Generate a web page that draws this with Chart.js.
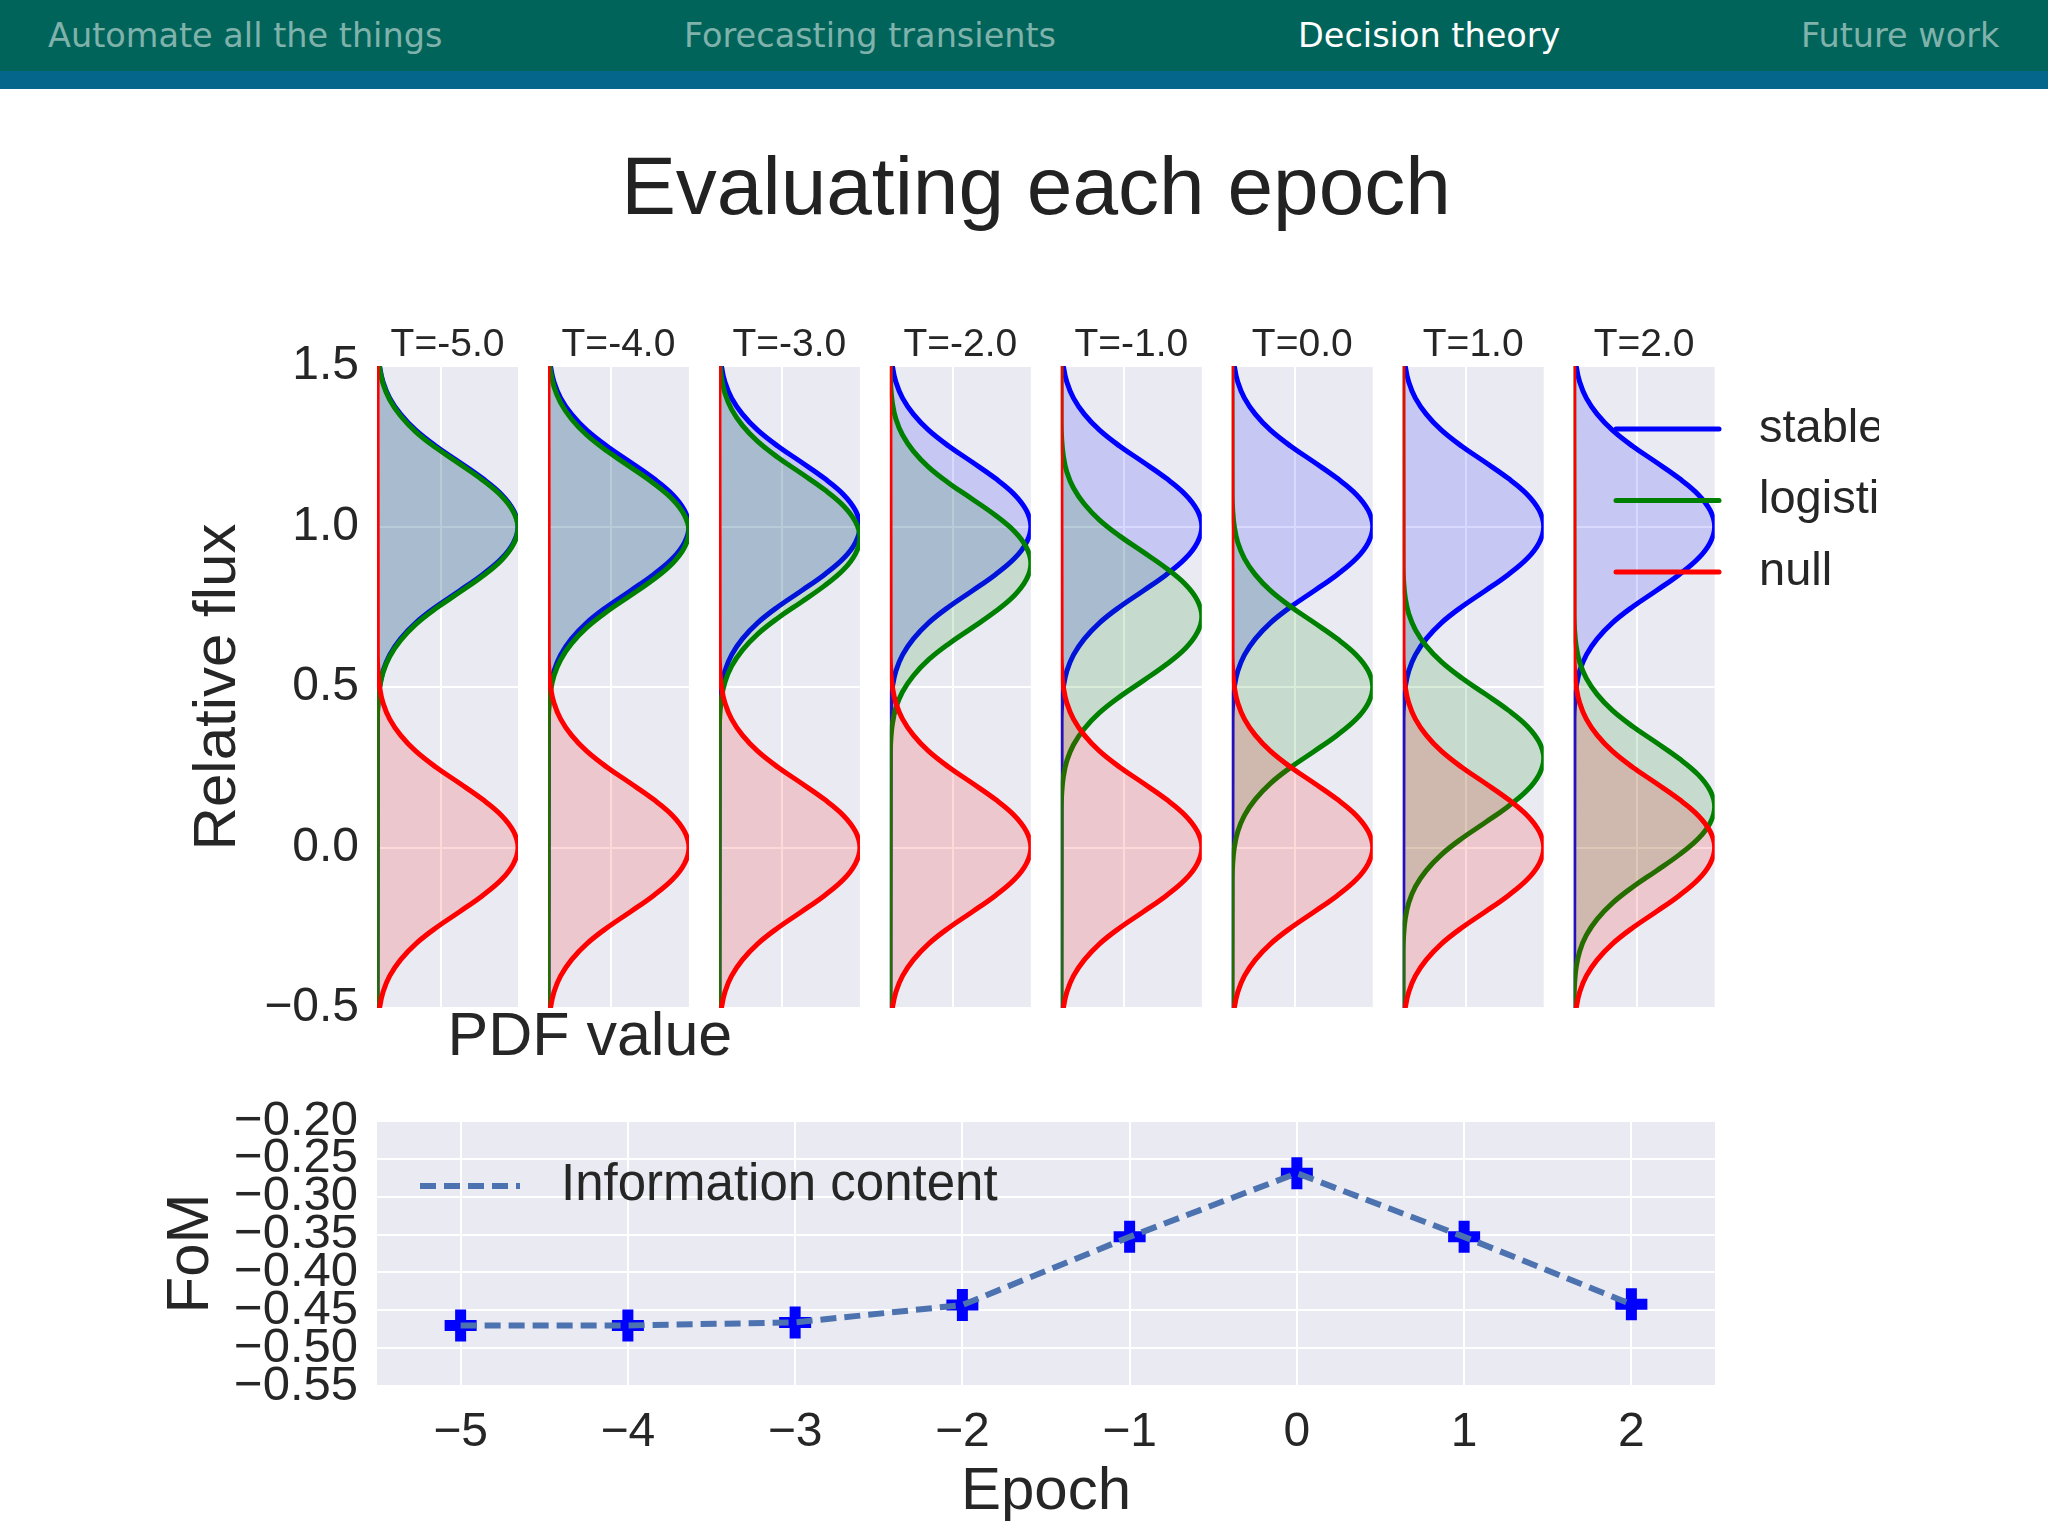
<!DOCTYPE html>
<html lang="en">
<head>
<meta charset="utf-8">
<title>Evaluating each epoch</title>
<script src="https://cdn.jsdelivr.net/npm/chart.js"></script>
<style>
    html, body { margin: 0; padding: 0; background: #fff; }
    #slide { position: relative; width: 2048px; height: 1536px; overflow: hidden; background: #fff; }
    .nav { position: absolute; top: 0; left: 0; width: 2048px; height: 71px; background: #00645a; }
    .nav-stripe { position: absolute; top: 71px; left: 0; width: 2048px; height: 18px; background: #03668a; }
    .nav-item { position: absolute; top: 19px; font-family: "DejaVu Sans", sans-serif; font-size: 33.5px; line-height: 1; color: rgb(128, 178, 172); white-space: nowrap; }
    .nav-item.active { color: #fff; }
    .slide-title { position: absolute; top: 145px; left: 1036px; transform: translateX(-50%); font-family: "Liberation Sans", Arial, sans-serif; font-size: 82px; line-height: 1; color: #222; white-space: nowrap; }
    canvas { position: absolute; top: 0; left: 0; }
</style>
</head>
<body>
<div id="slide">
    <div class="nav"></div>
    <div class="nav-stripe"></div>
    <div class="nav-item" style="left: 48px;">Automate all the things</div>
    <div class="nav-item" style="left: 684px;">Forecasting transients</div>
    <div class="nav-item active" style="left: 1298px;">Decision theory</div>
    <div class="nav-item" style="left: 1801px;">Future work</div>
    <div class="slide-title">Evaluating each epoch</div>
</div>
<script>
// values
const epochs = [-5, -4, -3, -2, -1, 0, 1, 2];
const panelTitles = ["T=-5.0", "T=-4.0", "T=-3.0", "T=-2.0", "T=-1.0", "T=0.0", "T=1.0", "T=2.0"];

const stableCentre = 1.0;
const nullCentre = 0.0;
const logisticCentres = [0.995, 0.985, 0.965, 0.885, 0.72, 0.5, 0.278, 0.127];

// shape of every PDF curve: value against distance from its centre
const profileOffsets = [-2.0, -0.6, -0.55, -0.5, -0.45, -0.4, -0.35, -0.3, -0.25, -0.2, -0.15, -0.1, -0.05,
    0, 0.05, 0.1, 0.15, 0.2, 0.25, 0.3, 0.35, 0.4, 0.45, 0.5, 0.55, 0.6, 2.0];
const pdfProfile = [0, 0.005, 0.015, 0.04, 0.095, 0.2, 0.37, 0.61, 0.93, 1.3, 1.66, 1.96, 2.15,
    2.22, 2.15, 1.96, 1.66, 1.3, 0.93, 0.61, 0.37, 0.2, 0.095, 0.04, 0.015, 0.005, 0];

const fomValues = [-0.470, -0.470, -0.466, -0.443, -0.353, -0.269, -0.353, -0.442];

const fluxTicks = [-0.5, 0, 0.5, 1.0, 1.5];
const fluxTickLabels = ["\u22120.5", "0.0", "0.5", "1.0", "1.5"];
const pdfGridTicks = [1];
const epochTickLabels = ["\u22125", "\u22124", "\u22123", "\u22122", "\u22121", "0", "1", "2"];
const fomTicks = [-0.55, -0.50, -0.45, -0.40, -0.35, -0.30, -0.25, -0.20];
const fomTickLabels = ["\u22120.55", "\u22120.50", "\u22120.45", "\u22120.40", "\u22120.35", "\u22120.30", "\u22120.25", "\u22120.20"];

const SLIDE_W = 2048;
const SLIDE_H = 1536;
const PANEL_LEFT = 377;
const PANEL_STEP = 170.95;
const PANEL_WIDTH = 141;
const PANEL_TOP = 366;
const PANEL_BOTTOM = 1008;
const FOM_AREA = { left: 377, right: 1715, top: 1121, bottom: 1386 };

const FONT = '"Liberation Sans", Arial, sans-serif';
const TEXT_COLOUR = "#262626";
const PLOT_BG = "#eaeaf2";

Chart.defaults.font.family = FONT;
Chart.defaults.color = TEXT_COLOUR;

function makeCanvas() {
    const canvas = document.createElement("canvas");
    canvas.width = SLIDE_W;
    canvas.height = SLIDE_H;
    canvas.style.width = SLIDE_W + "px";
    canvas.style.height = SLIDE_H + "px";
    document.getElementById("slide").appendChild(canvas);
    return canvas;
}

function makeExtras({ texts = [], legend = null }) {
    return {
        id: "extras",
        beforeDraw(chart) {
            const { ctx, chartArea: a } = chart;
            ctx.save();
            ctx.fillStyle = PLOT_BG;
            ctx.fillRect(a.left, a.top, a.right - a.left, a.bottom - a.top);
            ctx.restore();
        },
        afterDraw(chart) {
            const ctx = chart.ctx;
            ctx.save();
            ctx.fillStyle = TEXT_COLOUR;
            ctx.textBaseline = "middle";

            for (const t of texts) {
                ctx.font = t.font;
                ctx.textAlign = t.align || "left";
                ctx.fillText(t.text, t.x, t.y);
            }

            if (legend) {
                ctx.beginPath();
                ctx.rect(0, 0, legend.clipRight, chart.height);
                ctx.clip();
                ctx.font = legend.font;
                ctx.textAlign = "left";

                let y = legend.top;
                chart.data.datasets
                    .filter(ds => ds.inLegend !== false)
                    .forEach(ds => {
                        ctx.strokeStyle = ds.borderColor;
                        ctx.lineWidth = legend.lineWidth;
                        ctx.lineCap = legend.lineCap;
                        ctx.setLineDash(ds.borderDash || []);
                        ctx.beginPath();
                        ctx.moveTo(legend.lineStart, y);
                        ctx.lineTo(legend.lineEnd, y);
                        ctx.stroke();
                        ctx.setLineDash([]);
                        ctx.fillText(ds.label, legend.textStart, y);
                        y += legend.rowHeight;
                    });
            }
            ctx.restore();
        }
    };
}

function curve(centre) {
    return profileOffsets.map((offset, k) => ({ x: pdfProfile[k], y: centre + offset }));
}

function curveDataset(label, centre, colour, fillColour, order) {
    return {
        label,
        data: curve(centre),
        borderColor: colour,
        backgroundColor: fillColour,
        borderWidth: 5,
        fill: "origin",
        pointRadius: 0,
        tension: 0.4,
        clip: 0,
        order
    };
}

function setTicks(values) {
    return scale => {
        scale.ticks = values.map(value => ({ value }));
    };
}

function createPanel(index) {
    const left = PANEL_LEFT + PANEL_STEP * index;
    const right = left + PANEL_WIDTH;
    const isFirst = index === 0;
    const isLast = index === epochs.length - 1;
    const yAxisWidth = isFirst ? 227 : 0;
    const titleShift = 3;
    const titleHeight = 39 * 1.2 - titleShift;

    const texts = isFirst
        ? [{ text: "PDF value", x: left + PANEL_WIDTH / 2, y: 1038, font: "61px " + FONT, align: "left" }]
        : [];

    const legend = isLast
        ? {
            lineStart: 1616, lineEnd: 1719, textStart: 1759, top: 429, rowHeight: 71.5,
            lineWidth: 5, lineCap: "round", font: "47px " + FONT, clipRight: 1879
        }
        : null;

    new Chart(makeCanvas(), {
        type: "line",
        data: {
            datasets: [
                curveDataset("stable", stableCentre, "#0000ff", "rgba(0, 0, 255, 0.15)", 3),
                curveDataset("logistic", logisticCentres[index], "#008000", "rgba(0, 128, 0, 0.15)", 2),
                curveDataset("null", nullCentre, "#ff0000", "rgba(255, 0, 0, 0.15)", 1)
            ]
        },
        options: {
            responsive: false,
            animation: false,
            devicePixelRatio: 1,
            events: [],
            indexAxis: "y",
            layout: {
                padding: {
                    left: left - yAxisWidth,
                    right: SLIDE_W - right,
                    top: PANEL_TOP - titleHeight,
                    bottom: SLIDE_H - PANEL_BOTTOM
                }
            },
            scales: {
                x: {
                    type: "linear",
                    position: "bottom",
                    min: 0,
                    max: 2.22,
                    afterBuildTicks: setTicks(pdfGridTicks),
                    afterFit: scale => { scale.height = 0; },
                    ticks: { display: false },
                    grid: { color: "#ffffff", lineWidth: 2, drawTicks: false },
                    border: { display: false }
                },
                y: {
                    type: "linear",
                    position: "left",
                    min: -0.5,
                    max: 1.5,
                    afterBuildTicks: setTicks(fluxTicks),
                    afterFit: scale => { scale.width = yAxisWidth; },
                    ticks: {
                        display: isFirst,
                        autoSkip: false,
                        padding: 18,
                        font: { size: 48 },
                        callback: (value, i) => fluxTickLabels[i]
                    },
                    grid: { color: "#ffffff", lineWidth: 2, drawTicks: false },
                    border: { display: false },
                    title: {
                        display: isFirst,
                        text: "Relative flux",
                        font: { size: 60 },
                        padding: { top: 32, bottom: 0 }
                    }
                }
            },
            plugins: {
                legend: { display: false },
                tooltip: { enabled: false },
                title: {
                    display: true,
                    text: panelTitles[index],
                    fullSize: false,
                    color: TEXT_COLOUR,
                    font: { size: 39, weight: "normal" },
                    padding: { top: 0, bottom: -titleShift }
                }
            }
        },
        plugins: [makeExtras({ texts, legend })]
    });
}

function createFomChart() {
    const points = epochs.map((epoch, i) => ({ x: epoch, y: fomValues[i] }));

    new Chart(makeCanvas(), {
        type: "line",
        data: {
            datasets: [
                {
                    label: "Information content",
                    data: points,
                    borderColor: "#4c72b0",
                    borderWidth: 6,
                    borderDash: [16, 8],
                    borderCapStyle: "butt",
                    pointRadius: 0,
                    fill: false,
                    tension: 0,
                    order: 0
                },
                {
                    label: "Information content markers",
                    inLegend: false,
                    data: points,
                    showLine: false,
                    pointStyle: "cross",
                    pointRadius: 16,
                    pointBorderWidth: 11,
                    pointBorderColor: "#0000ff",
                    pointBackgroundColor: "#0000ff",
                    order: 1
                }
            ]
        },
        options: {
            responsive: false,
            animation: false,
            devicePixelRatio: 1,
            events: [],
            layout: {
                padding: {
                    left: 122,
                    right: SLIDE_W - FOM_AREA.right,
                    top: FOM_AREA.top,
                    bottom: 0
                }
            },
            scales: {
                x: {
                    type: "linear",
                    min: -5.5,
                    max: 2.5,
                    afterBuildTicks: setTicks(epochs),
                    afterFit: scale => { scale.height = SLIDE_H - FOM_AREA.bottom; },
                    ticks: {
                        autoSkip: false,
                        maxRotation: 0,
                        padding: 18,
                        font: { size: 48 },
                        callback: (value, i) => epochTickLabels[i]
                    },
                    grid: { color: "#ffffff", lineWidth: 2, drawTicks: false },
                    border: { display: false },
                    title: {
                        display: true,
                        text: "Epoch",
                        font: { size: 60 },
                        padding: { top: 0, bottom: 8 }
                    }
                },
                y: {
                    type: "linear",
                    min: -0.55,
                    max: -0.2,
                    afterBuildTicks: setTicks(fomTicks),
                    afterFit: scale => { scale.width = FOM_AREA.left - 122; },
                    ticks: {
                        autoSkip: false,
                        padding: 19,
                        font: { size: 49 },
                        callback: (value, i) => fomTickLabels[i]
                    },
                    grid: { color: "#ffffff", lineWidth: 2, drawTicks: false },
                    border: { display: false },
                    title: {
                        display: true,
                        text: "FoM",
                        font: { size: 60 },
                        padding: { top: 33, bottom: 0 }
                    }
                }
            },
            plugins: {
                legend: { display: false },
                tooltip: { enabled: false }
            }
        },
        plugins: [makeExtras({
            legend: {
                lineStart: 420, lineEnd: 520, textStart: 561, top: 1186, rowHeight: 0,
                lineWidth: 6, lineCap: "butt", font: "51px " + FONT, clipRight: SLIDE_W
            }
        })]
    });
}

document.addEventListener("DOMContentLoaded", () => {
    epochs.forEach((epoch, index) => createPanel(index));
    createFomChart();
});
</script>
</body>
</html>
